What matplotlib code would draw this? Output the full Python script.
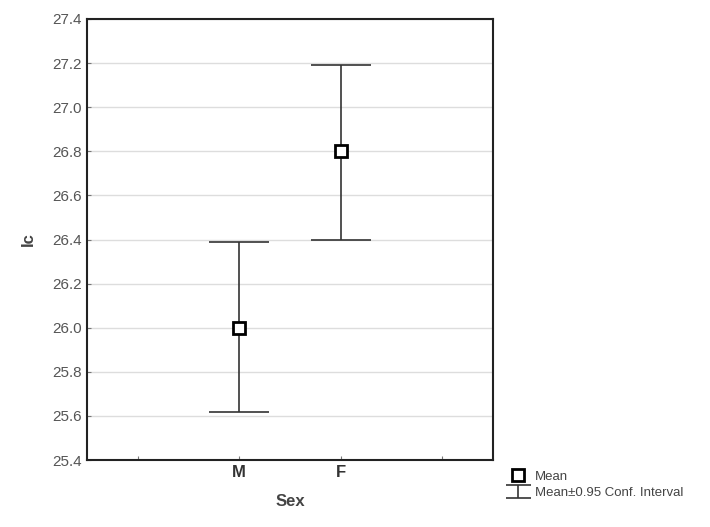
import matplotlib.pyplot as plt
import numpy as np

plt.rcParams['font.family'] = ['Liberation Sans', 'DejaVu Sans']

groups = ["M", "F"]
means = [26.00, 26.80]
upper = [26.39, 27.19]
lower = [25.62, 26.40]

fig = plt.figure(figsize=(7.1, 5.27), dpi=100)
ax = fig.add_axes([0.1225, 0.127, 0.572, 0.837])

x = np.arange(1, len(groups) + 1)
yerr = [np.array(means) - np.array(lower), np.array(upper) - np.array(means)]

ax.errorbar(x, means, yerr=yerr, fmt="none", ecolor="#333333", elinewidth=1.2,
            capsize=21.6, capthick=1.2, zorder=3)
mk, = ax.plot(x, means, "s", ms=8, mfc="white", mec="black", mew=2, ls="none", zorder=4)

# small proxy just for the legend symbol
eb = ax.errorbar([np.nan], [np.nan], yerr=[[0.1], [0.1]], fmt="none", ecolor="#333333",
                 elinewidth=1.2, capsize=9, capthick=1.2)

ax.set_xlim(-0.5, 3.5)
ax.set_ylim(25.4, 27.4)
ax.set_xticks([0, 1, 2, 3])
ax.set_xticklabels(["", "M", "F", ""], fontweight="bold", fontsize=12, color="#333333")
ax.set_yticks(np.arange(25.4, 27.41, 0.2))
ax.set_yticklabels([f"{v:.1f}" for v in np.arange(25.4, 27.41, 0.2)], fontsize=11, color="#555555")
ax.tick_params(axis="both", direction="in", length=3, color="#777777")
ax.yaxis.grid(True, color="#dddddd", lw=1)
ax.set_axisbelow(True)
for s in ax.spines.values():
    s.set_linewidth(1.5)
    s.set_color("#222222")

ax.set_xlabel("Sex", fontweight="bold", fontsize=12, color="#444444", labelpad=10)
ax.set_ylabel("Ic", fontweight="bold", fontsize=12, color="#444444", labelpad=12)

fig.legend([mk, eb], ["Mean", "Mean±0.95 Conf. Interval"], loc="upper left",
           bbox_to_anchor=(0.705, 0.125), frameon=False, fontsize=9.5, handlelength=1.3,
           handletextpad=0.6, labelspacing=0.35, borderpad=0.2, labelcolor="#444444")

fig.savefig("out.png", dpi=100)
